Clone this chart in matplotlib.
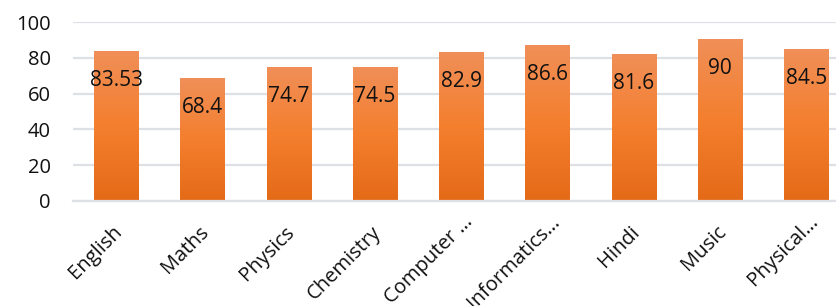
import numpy as np
import matplotlib
matplotlib.use("Agg")
import matplotlib.pyplot as plt
from matplotlib.colors import LinearSegmentedColormap
from matplotlib.transforms import ScaledTranslation

subjects = ["English", "Maths", "Physics", "Chemistry", "Computer \u2026",
            "Informatics\u2026", "Hindi", "Music", "Physical\u2026"]
scores = [83.53, 68.4, 74.7, 74.5, 82.9, 86.6, 81.6, 90, 84.5]
score_labels = ["83.53", "68.4", "74.7", "74.5", "82.9", "86.6", "81.6", "90", "84.5"]

plt.rcParams["font.family"] = ["Open Sans", "DejaVu Sans"]

fig = plt.figure(figsize=(8.36, 3.06), dpi=100)
ax = fig.add_axes([73 / 836, 1 - 201 / 306, 1 - 73 / 836, 179 / 306])

x = np.arange(len(subjects))
bars = ax.bar(x, scores, width=0.515, color="none", zorder=2)

# excel-like vertical gradient in each bar
grad_cmap = LinearSegmentedColormap.from_list(
    "orange", ["#e46a17", "#f47f2e", "#f08f58"])
grad = np.linspace(0, 1, 256).reshape(-1, 1)
for b in bars:
    x0, w, h = b.get_x(), b.get_width(), b.get_height()
    ax.imshow(grad, cmap=grad_cmap, origin="lower", aspect="auto",
              extent=(x0, x0 + w, 0, h), zorder=2)

for b, lab in zip(bars, score_labels):
    ax.annotate(lab, (b.get_x() + b.get_width() / 2, b.get_height()),
                xytext=(0, -29), textcoords="offset pixels",
                ha="center", va="center", fontsize=15, color="#111111", zorder=3)

ax.set_xlim(-0.5, 8.342)
ax.set_ylim(0, 100)
ax.set_yticks([0, 20, 40, 60, 80, 100])
ax.grid(axis="y", color="#dde1e6", linewidth=1.6, zorder=0)
ax.set_axisbelow(True)
for s in ["top", "right", "left"]:
    ax.spines[s].set_visible(False)
ax.spines["bottom"].set_color("#dde1e6")
ax.spines["bottom"].set_linewidth(1.6)

ax.tick_params(axis="y", length=0, pad=16, labelsize=14.5, labelcolor="#111111")
ax.tick_params(axis="x", length=0, pad=0, labelsize=14.5, labelcolor="#111111")
ax.set_xticks(x)
ax.set_xticklabels(subjects, rotation=45, ha="right", rotation_mode="anchor")
# truncated names sit higher, like excel does it
for t in ax.get_xticklabels():
    if t.get_text().endswith("\u2026"):
        dx, dy = 2, 11
    else:
        dx, dy = -4, 21
    t.set_transform(t.get_transform() + ScaledTranslation(dx / 100, -dy / 100, fig.dpi_scale_trans))

fig.savefig("out.png", dpi=100)
